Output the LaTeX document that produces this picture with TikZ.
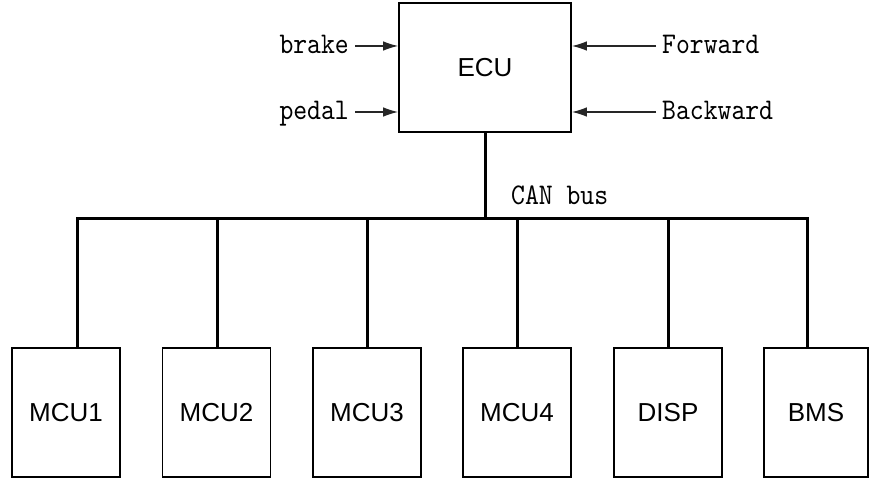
\documentclass[tikz,border=0pt]{standalone}
\usepackage{fontspec}
\setsansfont{Liberation Sans}
\newfontfamily\monof{lmmono10-regular.otf}[FakeStretch=0.88]
\usetikzlibrary{arrows.meta}
\begin{document}
\begin{tikzpicture}[x=1pt,y=-1pt,
  box/.style={draw=black,line width=1.6pt,rectangle,inner sep=0pt,minimum width=108pt,minimum height=129pt,
    font=\sffamily\fontsize{26}{30}\selectfont},
  lbl/.style={inner xsep=6pt,inner ysep=0pt,text height=15pt,text depth=0pt,
    font=\monof\fontsize{30}{32}\selectfont},
  arr/.style={draw=black!85,line width=1.3pt,-{Latex[length=15pt,width=9.5pt]}},
  bus/.style={line width=3pt}]
\useasboundingbox (0,0) rectangle (869,478);
\fill[white] (0,0) rectangle (869,478);
% ECU
\node[box,minimum width=172pt,minimum height=129pt] (ECU) at (485,67.5) {ECU};
% labels
\node[lbl,anchor=east] (brake) at (355,46) {brake};
\node[lbl,anchor=east] (pedal) at (355,112) {pedal};
\node[lbl,anchor=west] (fwd) at (656,46) {Forward};
\node[lbl,anchor=west] (bwd) at (656,112) {Backward};
\draw[arr] (brake.east) -- (brake.east -| ECU.west);
\draw[arr] (pedal.east) -- (pedal.east -| ECU.west);
\draw[arr] (fwd.west) -- (fwd.west -| ECU.east);
\draw[arr] (bwd.west) -- (bwd.west -| ECU.east);
% bottom boxes
\node[box] (m1) at (66,412.5) {MCU1};
\node[box] (m2) at (216.5,412.5) {MCU2};
\node[box] (m3) at (367,412.5) {MCU3};
\node[box] (m4) at (517,412.5) {MCU4};
\node[box] (disp) at (668,412.5) {DISP};
\node[box,minimum width=104pt] (bms) at (816,412.5) {BMS};
% bus
\coordinate (b1) at (77,219);
\coordinate (b2) at (217,219);
\coordinate (b3) at (367,219);
\coordinate (b4) at (517,219);
\coordinate (b5) at (668,219);
\coordinate (b6) at (807,219);
\coordinate (be) at (485,219);
\draw[bus] (b1 |- m1.north) -- (b1) -- (b6) -- (b6 |- bms.north);
\draw[bus] (b2) -- (b2 |- m2.north);
\draw[bus] (b3) -- (b3 |- m3.north);
\draw[bus] (b4) -- (b4 |- m4.north);
\draw[bus] (b5) -- (b5 |- disp.north);
\draw[bus] (ECU.south) -- (be);
\node[lbl,inner xsep=0pt,anchor=base west] (can) at (511,205) {CAN bus};
\end{tikzpicture}
\end{document}
